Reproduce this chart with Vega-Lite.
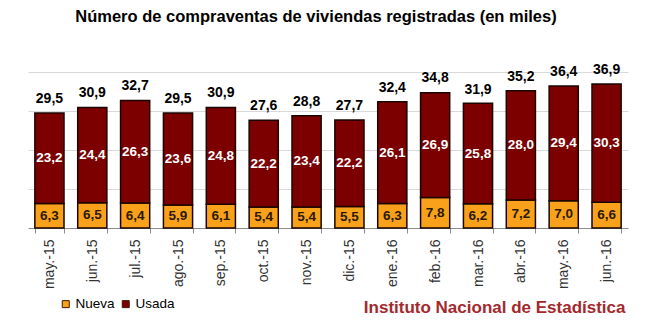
{
  "$schema": "https://vega.github.io/schema/vega-lite/v6.json",
  "width": 600,
  "height": 156,
  "autosize": {"type": "none"},
  "padding": {"left": 28, "top": 72, "right": 37, "bottom": 96},
  "background": "white",
  "config": {
    "locale": {"number": {"decimal": ",", "thousands": ".", "grouping": [3], "currency": ["", " €"]}},
    "font": "Liberation Sans",
    "view": {"stroke": null}
  },
  "title": {
    "text": "Número de compraventas de viviendas registradas (en miles)",
    "font": "Liberation Sans",
    "fontSize": 16.5,
    "fontWeight": "bold",
    "color": "#000000",
    "anchor": "middle",
    "dx": -12,
    "offset": 38
  },
  "data": {
    "values": [
      {"Mes": "may.-15", "Nueva": 6.3, "Usada": 23.2, "Total": 29.5},
      {"Mes": "jun.-15", "Nueva": 6.5, "Usada": 24.4, "Total": 30.9},
      {"Mes": "jul.-15", "Nueva": 6.4, "Usada": 26.3, "Total": 32.7},
      {"Mes": "ago.-15", "Nueva": 5.9, "Usada": 23.6, "Total": 29.5},
      {"Mes": "sep.-15", "Nueva": 6.1, "Usada": 24.8, "Total": 30.9},
      {"Mes": "oct.-15", "Nueva": 5.4, "Usada": 22.2, "Total": 27.6},
      {"Mes": "nov.-15", "Nueva": 5.4, "Usada": 23.4, "Total": 28.8},
      {"Mes": "dic.-15", "Nueva": 5.5, "Usada": 22.2, "Total": 27.7},
      {"Mes": "ene.-16", "Nueva": 6.3, "Usada": 26.1, "Total": 32.4},
      {"Mes": "feb.-16", "Nueva": 7.8, "Usada": 26.9, "Total": 34.8},
      {"Mes": "mar.-16", "Nueva": 6.2, "Usada": 25.8, "Total": 31.9},
      {"Mes": "abr.-16", "Nueva": 7.2, "Usada": 28.0, "Total": 35.2},
      {"Mes": "may.-16", "Nueva": 7.0, "Usada": 29.4, "Total": 36.4},
      {"Mes": "jun.-16", "Nueva": 6.6, "Usada": 30.3, "Total": 36.9}
    ]
  },
  "encoding": {
    "x": {
      "field": "Mes",
      "type": "nominal",
      "sort": null,
      "scale": {"paddingInner": 0.32, "paddingOuter": 0.16},
      "axis": {
        "title": "Instituto Nacional de Estadística",
        "titleFont": "Liberation Sans",
        "titleFontSize": 17,
        "titleFontWeight": "bold",
        "titleColor": "#a3292d",
        "titleX": 597,
        "titleY": 84,
        "titleAlign": "right",
        "titleBaseline": "alphabetic",
        "labelAngle": -90,
        "labelAlign": "right",
        "labelBaseline": "middle",
        "labelFont": "Liberation Sans",
        "labelFontSize": 14,
        "labelColor": "#333333",
        "labelPadding": 6,
        "tickBand": "extent",
        "tickSize": 5,
        "tickColor": "#8c8c8c",
        "domainColor": "#8c8c8c"
      }
    }
  },
  "layer": [
    {
      "transform": [{"fold": ["Nueva", "Usada"], "as": ["Tipo", "Valor"]}],
      "layer": [
        {
          "mark": {"type": "bar", "stroke": "#1a0500", "strokeWidth": 1.5},
          "encoding": {
            "y": {
              "field": "Valor",
              "type": "quantitative",
              "stack": "zero",
              "scale": {"domain": [0, 40], "nice": false},
              "axis": {
                "title": null,
                "labels": false,
                "ticks": false,
                "domain": false,
                "grid": true,
                "values": [10, 20, 30, 40],
                "gridColor": "#d9d9d9"
              }
            },
            "color": {
              "field": "Tipo",
              "type": "nominal",
              "scale": {"domain": ["Nueva", "Usada"], "range": ["#f9a11b", "#7d0000"]},
              "legend": {
                "title": null,
                "orient": "none",
                "legendX": 31,
                "legendY": 225,
                "direction": "horizontal",
                "symbolType": "square",
                "symbolSize": 49,
                "symbolStrokeColor": "#3a1a00",
                "symbolStrokeWidth": 1,
                "labelFont": "Liberation Sans",
                "labelFontSize": 13.5,
                "labelColor": "#000000",
                "labelOffset": 3,
                "columnPadding": 4
              }
            },
            "order": {"field": "Tipo", "sort": "ascending"}
          }
        },
        {
          "mark": {"type": "text", "fontSize": 13.5, "fontWeight": "bold", "baseline": "middle"},
          "encoding": {
            "y": {"field": "Valor", "type": "quantitative", "stack": "zero", "bandPosition": 0.5},
            "text": {"field": "Valor", "type": "quantitative", "format": ".1f"},
            "order": {"field": "Tipo", "sort": "ascending"},
            "color": {
              "condition": {"test": "datum.Tipo === 'Usada'", "value": "#ffffff"},
              "value": "#2a1a05"
            }
          }
        }
      ]
    },
    {
      "mark": {"type": "text", "fontSize": 14, "fontWeight": "bold", "baseline": "alphabetic", "dy": -10, "color": "#000000"},
      "encoding": {
        "y": {"field": "Total", "type": "quantitative"},
        "text": {"field": "Total", "type": "quantitative", "format": ".1f"}
      }
    }
  ]
}
